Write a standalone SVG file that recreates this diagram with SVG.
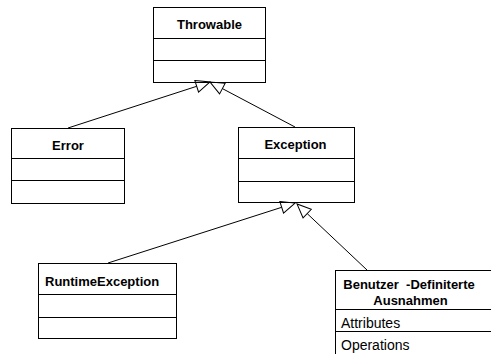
<svg xmlns="http://www.w3.org/2000/svg" width="491" height="354" viewBox="0 0 491 354">
<style>
.box{fill:#fff;stroke:#000;stroke-width:1}
.sep{stroke:#000;stroke-width:1}
.title{font-family:"Liberation Sans",Arial,sans-serif;font-weight:bold;font-size:13px;fill:#000}
.member{font-family:"Liberation Sans",Arial,sans-serif;font-size:14px;fill:#000}
.conn{stroke:#000;stroke-width:1;fill:none;marker-end:url(#gen)}
</style>
<defs>
<marker id="gen" markerUnits="userSpaceOnUse" viewBox="-1 -7 16 14" markerWidth="16" markerHeight="14" refX="0" refY="0" orient="auto">
<path d="M0,-6 L14,0 L0,6 Z" fill="none" stroke="#000" stroke-width="1"/>
</marker>
</defs>
<rect width="491" height="354" fill="#fff"/>
<g id="throwable">
<rect class="box" x="153.5" y="7.5" width="112" height="75"/>
<line class="sep" x1="153.5" y1="38.5" x2="265.5" y2="38.5"/>
<line class="sep" x1="153.5" y1="60.5" x2="265.5" y2="60.5"/>
<text class="title" x="209.5" y="28.5" text-anchor="middle">Throwable</text>
</g>
<g id="error">
<rect class="box" x="11.5" y="128.5" width="113" height="75"/>
<line class="sep" x1="11.5" y1="158.5" x2="124.5" y2="158.5"/>
<line class="sep" x1="11.5" y1="180.5" x2="124.5" y2="180.5"/>
<text class="title" x="68" y="149.5" text-anchor="middle">Error</text>
</g>
<g id="exception">
<rect class="box" x="238.5" y="127.5" width="116" height="75"/>
<line class="sep" x1="238.5" y1="158.5" x2="354.5" y2="158.5"/>
<line class="sep" x1="238.5" y1="181.5" x2="354.5" y2="181.5"/>
<text class="title" x="295.5" y="149" text-anchor="middle">Exception</text>
</g>
<g id="runtimeexception">
<rect class="box" x="38.5" y="263.5" width="138" height="75"/>
<line class="sep" x1="38.5" y1="294.5" x2="176.5" y2="294.5"/>
<line class="sep" x1="38.5" y1="317.5" x2="176.5" y2="317.5"/>
<text class="title" x="45" y="285.5">RuntimeException</text>
</g>
<g id="benutzer">
<rect class="box" x="335.5" y="270.5" width="170" height="100"/>
<line class="sep" x1="335.5" y1="309.5" x2="491" y2="309.5"/>
<line class="sep" x1="335.5" y1="331.5" x2="491" y2="331.5"/>
<text class="title" x="409" y="289" text-anchor="middle" xml:space="preserve">Benutzer  -Definiterte</text>
<text class="title" x="410.5" y="305" text-anchor="middle">Ausnahmen</text>
<text class="member" x="341" y="327.5">Attributes</text>
<text class="member" x="341" y="350">Operations</text>
</g>
<g id="connectors">
<path class="conn" d="M68,128 L196.7,86.3"/>
<path class="conn" d="M295,127 L222.4,88.6"/>
<path class="conn" d="M108,263 L281.7,207.3"/>
<path class="conn" d="M367,270 L307.2,213.6"/>
</g>
</svg>
